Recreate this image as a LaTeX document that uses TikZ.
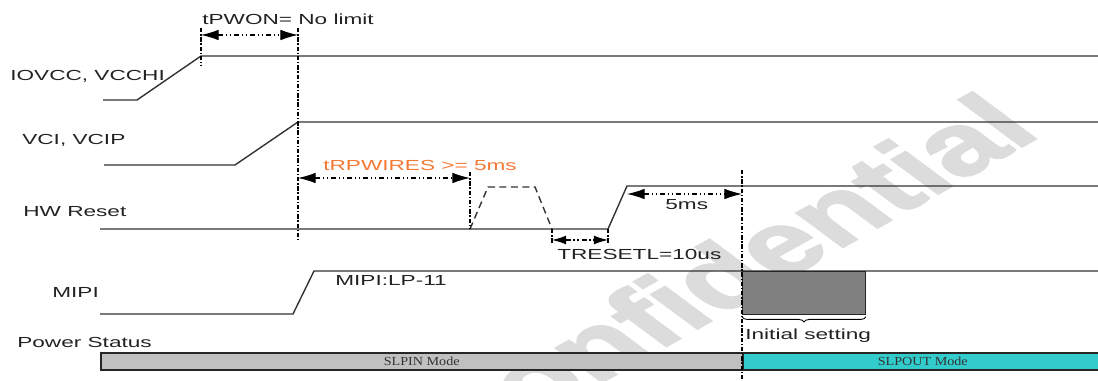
\documentclass[tikz,border=0pt]{standalone}
\usepackage{fontspec}
\setmainfont{Liberation Sans}
\newfontfamily\sigfont[FakeStretch=1.55]{Liberation Sans}
\newfontfamily\modefont[FakeStretch=1.15]{Liberation Serif}
\newfontfamily\markfont[FakeBold=2]{Liberation Sans Bold}
\usetikzlibrary{arrows.meta, decorations.pathreplacing}
\definecolor{sigLine}{RGB}{51, 51, 51}
\definecolor{sigText}{RGB}{34, 34, 34}
\definecolor{rpwOrange}{RGB}{244, 121, 52}
\definecolor{modeGray}{RGB}{192, 192, 192}
\definecolor{modeCyan}{RGB}{51, 204, 204}
\definecolor{setGray}{RGB}{128, 128, 128}
\definecolor{markGray}{RGB}{220, 220, 220}

\begin{document}
\begin{tikzpicture}[x=0.02cm, y=-0.02cm,
    sig/.style={draw=sigLine, line width=0.8pt},
    pulse/.style={sig, dash pattern=on 4pt off 2.5pt},
    guide/.style={draw=black, line width=0.6pt, dash pattern=on 2.5pt off 1pt on 0.8pt off 1pt},
    span/.style={draw=black, line width=0.6pt,
        dash pattern=on 3pt off 1.5pt on 0.8pt off 1.5pt on 0.8pt off 1.5pt,
        {Latex[length=10pt, width=6pt]}-{Latex[length=10pt, width=6pt]}},
    sigtext/.style={font=\sigfont\fontsize{8.3}{10}\selectfont, inner sep=0pt,
        anchor=base west, text=sigText},
    modebar/.style={draw=black!85, line width=0.9pt, inner sep=0pt, minimum height=0.34cm,
        anchor=north west, font=\modefont\fontsize{7}{8}\selectfont, text=black!80}]
    \useasboundingbox (0,0) rectangle (1098,381);

    % watermark
    \begin{scope}
        \clip (0,0) rectangle (1098,381);
        \begin{scope}[xscale=1.55]
            \node[rotate=41, transform shape, text=markGray, inner sep=0pt,
                  font=\markfont\fontsize{49}{49}\selectfont] (mark) at (465,275) {Confidential};
        \end{scope}
    \end{scope}

    % signal names
    \node[sigtext] (lblIovcc) at (10,81) {IOVCC, VCCHI};
    \node[sigtext] (lblVci) at (22,145) {VCI, VCIP};
    \node[sigtext] (lblReset) at (23,217) {HW Reset};
    \node[sigtext] (lblMipi) at (52,297) {MIPI};
    \node[sigtext] (lblPower) at (17,347) {Power Status};

    % waveforms
    \draw[sig] (103,100) -- (137,100) -- (201,56) -- (1098,56);
    \draw[sig] (104,165) -- (235,165) -- (298,122) -- (1098,122);
    \draw[sig] (100,229) -- (608,229) -- (627,186) -- (1098,186);
    \draw[pulse] (470,229) -- (488,187) -- (535,187) -- (552,229);
    \draw[sig] (100,314) -- (293,314) -- (314,271) -- (1098,271);

    % timing marks
    \coordinate (pwonL) at (201,35);
    \coordinate (pwonR) at (298,35);
    \coordinate (rpwL) at (298,178);
    \coordinate (rpwR) at (470,178);
    \coordinate (rstL) at (552,240);
    \coordinate (rstR) at (608,240);
    \coordinate (waitL) at (627,194);
    \coordinate (waitR) at (742,194);
    \draw[guide] (201,28) -- (201,66);
    \draw[guide] (298,28) -- (298,240);
    \draw[guide] (470,172) -- (470,229);
    \draw[guide] (552,229) -- (552,243);
    \draw[guide] (608,229) -- (608,243);
    \draw[span] (pwonL) -- (pwonR);
    \draw[span] (rpwL) -- (rpwR);
    \draw[span, {Latex[length=8pt, width=5pt]}-{Latex[length=8pt, width=5pt]}] (rstL) -- (rstR);
    \draw[span] (waitL) -- (waitR);

    \node[sigtext] (lblPwon) at (202,25) {tPWON= No limit};
    \node[sigtext, text=rpwOrange] (lblRpw) at (323,171) {tRPWIRES >= 5ms};
    \node[sigtext] (lblRst) at (557,260) {TRESETL=10us};
    \node[sigtext] (lblWait) at (665,210) {5ms};
    \node[sigtext] (lblLp) at (335,286) {MIPI:LP-11};

    % initial setting
    \node[draw=black!85, line width=0.6pt, fill=setGray, inner sep=0pt, anchor=north west,
          minimum width=2.46cm, minimum height=0.86cm] (initBox) at (742,271) {};
    \draw[decorate, decoration={brace, amplitude=3pt}, line width=0.5pt]
        ([yshift=-1pt]initBox.south east) -- ([yshift=-1pt]initBox.south west);
    \node[sigtext] (lblInit) at (745,339) {Initial setting};

    % power status
    \node[modebar, fill=modeGray, minimum width=12.84cm] (slpin) at (100,352) {SLPIN Mode};
    \node[modebar, fill=modeCyan, minimum width=7.2cm] (slpout) at (742,352) {SLPOUT Mode};
    \draw[guide] (742,170) -- (742,381);
\end{tikzpicture}
\end{document}
